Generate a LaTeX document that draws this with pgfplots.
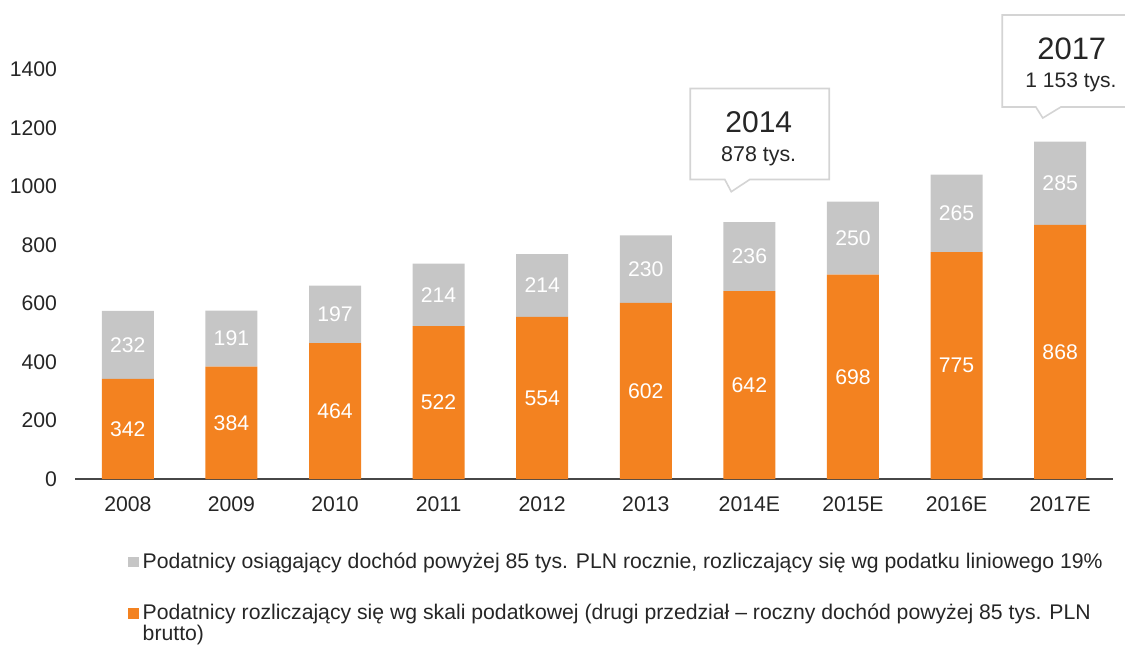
\documentclass[border=0pt]{standalone}
\usepackage{fontspec}
\setmainfont{Liberation Sans}
\usepackage{pgfplots}
\pgfplotsset{compat=1.18}
\usetikzlibrary{shapes.callouts}
\definecolor{barorange}{RGB}{243,130,32}
\definecolor{bargray}{RGB}{198,198,198}
\definecolor{txt}{RGB}{38,38,38}
\definecolor{boxline}{RGB}{212,212,212}
\begin{document}
\begin{tikzpicture}
\path[use as bounding box] (0,0) rectangle (562.5pt,322pt);
\begin{axis}[
  at={(37.5pt,82.5pt)}, anchor=south west,
  scale only axis, width=519pt, height=204.9pt,
  xmin=-0.51, xmax=9.51, ymin=0, ymax=1400,
  ybar stacked, bar width=26pt,
  axis x line*=bottom, axis y line*=left,
  y axis line style={draw=none},
  x axis line style={draw=txt!85, line width=0.6pt},
  major tick length=0pt,
  xtick={0,...,9},
  xticklabels={2008,2009,2010,2011,2012,2013,2014E,2015E,2016E,2017E},
  ytick={0,200,...,1400},
  tick label style={font=\fontsize{10.6}{12}\selectfont, text=txt},
  /pgf/number format/assume math mode=true,
  /pgf/number format/1000 sep={},
  xticklabel style={yshift=-5.5pt},
  yticklabel style={xshift=-5.5pt},
  clip=false,
  nodes near coords,
  every node near coord/.append style={anchor=center, text=white,
     font=\fontsize{10.6}{12}\selectfont},
  legend style={at={(0.051,-0.17)}, anchor=north west, draw=none, fill=none,
     font=\fontsize{10.6}{10.4}\selectfont, text=txt, row sep=12.5pt,
     inner sep=0pt, outer sep=0pt},
  legend cell align=left,
  legend image code/.code={\fill[#1] (0pt,-2.7pt) rectangle (5.4pt,2.7pt);},
  reverse legend,
]
\addplot[fill=barorange, draw=none] coordinates {(0,342) (1,384) (2,464) (3,522) (4,554) (5,602) (6,642) (7,698) (8,775) (9,868)};
\addlegendentry{\parbox[t]{500pt}{Podatnicy rozliczający się wg skali podatkowej (drugi przedział – roczny dochód powyżej 85 tys. PLN\\brutto)}}
\addplot[fill=bargray, draw=none] coordinates {(0,232) (1,191) (2,197) (3,214) (4,214) (5,230) (6,236) (7,250) (8,265) (9,285)};
\addlegendentry{Podatnicy osiągający dochód powyżej 85 tys. PLN rocznie, rozliczający się wg podatku liniowego 19\%}

\node[rectangle callout, draw=boxline, line width=0.8pt, fill=white,
      minimum width=69.5pt, minimum height=45.5pt, inner sep=0pt,
      callout absolute pointer={(axis cs:5.825,981.5)}, callout pointer width=12.5pt]
      at (axis cs:6.10,1178.7) {};
\node[rectangle callout, draw=boxline, line width=0.8pt, fill=white,
      minimum width=69.5pt, minimum height=46pt, inner sep=0pt,
      callout absolute pointer={(axis cs:8.832,1233.3)}, callout pointer width=12.5pt]
      at (axis cs:9.112,1428) {};
\coordinate (a14) at (axis cs:6.091,1182.1);
\coordinate (b14) at (axis cs:6.09,1083.0);
\coordinate (a17) at (axis cs:9.112,1431.5);
\coordinate (b17) at (axis cs:9.104,1335.8);
\end{axis}
\node[anchor=base, inner sep=0pt, text=txt, font=\fontsize{15}{16}\selectfont] at (a14) {2014};
\node[anchor=base, inner sep=0pt, text=txt, font=\fontsize{10.7}{12}\selectfont] at (b14) {878 tys.};
\node[anchor=base, inner sep=0pt, text=txt, font=\fontsize{15.5}{16}\selectfont] at (a17) {2017};
\node[anchor=base, inner sep=0pt, text=txt, font=\fontsize{10.5}{12}\selectfont] at (b17) {1 153 tys.};
\end{tikzpicture}
\end{document}
